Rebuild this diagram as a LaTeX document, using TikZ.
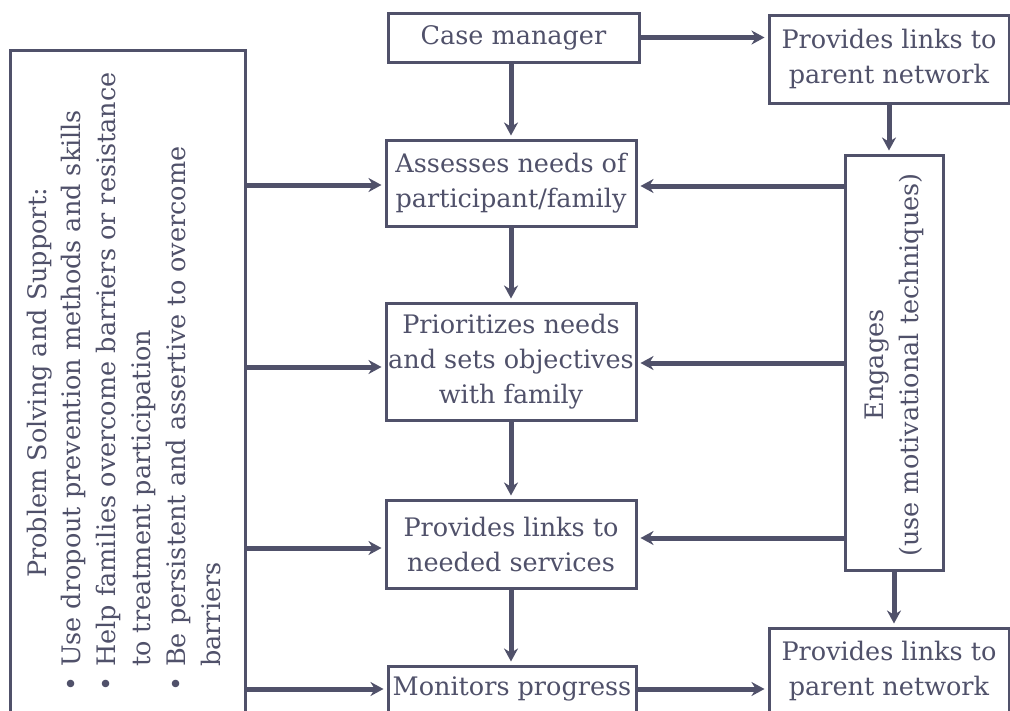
\documentclass[tikz,border=0pt]{standalone}
\usepackage{fontspec}
\setmainfont{DejaVu Serif}
\usetikzlibrary{arrows.meta}
\definecolor{ink}{RGB}{80,81,106}
\begin{document}
\begin{tikzpicture}[x=1pt,y=-1pt,
  box/.style={draw=ink,line width=3pt,fill=white,inner sep=0pt,align=center,text=ink,font=\fontsize{25.5}{35}\selectfont},
  txt/.style={text=ink,inner sep=0pt,font=\fontsize{25.5}{35}\selectfont},
  arr/.style={draw=ink,line width=5pt,-{Stealth[length=13pt,width=14pt]},shorten >=3pt}
]
\useasboundingbox[fill=white] (0,0) rectangle (1010,710);
% boxes
\node[box,minimum width=235pt,minimum height=690pt] (left) at (127.5,395) {};
\node[box,minimum width=251pt,minimum height=49pt] (cm) at (513.5,37.5) {Case manager};
\node[box,minimum width=240pt,minimum height=88pt] (ptop) at (889,59) {Provides links to\\parent network};
\node[box,minimum width=250pt,minimum height=86pt] (ass) at (511,183) {Assesses needs of\\participant/family};
\node[box,minimum width=250pt,minimum height=117pt] (pri) at (511,361.5) {Prioritizes needs\\and sets objectives\\with family};
\node[box,minimum width=250pt,minimum height=88pt] (pro) at (511,544) {Provides links to\\needed services};
\node[box,minimum width=248pt,minimum height=64pt] (mon) at (512,698) {};
\node[txt] (montxt) at (512,689) {Monitors progress};
\node[box,minimum width=98pt,minimum height=415pt] (eng) at (894,362.5) {};
\node[txt,rotate=90,align=center] (engtxt) at (894,365) {Engages\\(use motivational techniques)};
\node[box,minimum width=240pt,minimum height=112pt] (pbot) at (889,684) {};
\node[txt,align=center] (pbottxt) at (889,671) {Provides links to\\parent network};
% left box text
\node[txt,rotate=90] (title) at (40,383) {Problem Solving and Support:};
\node[txt,rotate=90,align=left,anchor=north west] (bul) at (61,692)
  {\makebox[25pt][l]{\textbullet}Use dropout prevention methods and skills\\
   \makebox[25pt][l]{\textbullet}Help families overcome barriers or resistance\\
   \hspace*{25pt}to treatment participation\\
   \makebox[25pt][l]{\textbullet}Be persistent and assertive to overcome\\
   \hspace*{25pt}barriers};
% arrows
\draw[arr] (cm.east) -- (ptop.west |- cm.east);
\draw[arr] (cm.south -| ass.north) -- (ass.north);
\draw[arr] (ass.south) -- (pri.north);
\draw[arr] (pri.south) -- (pro.north);
\draw[arr] (pro.south) -- (pro.south |- mon.north);
\draw[arr] (ptop.south) -- (ptop.south |- eng.north);
\draw[arr] (eng.south) -- (eng.south |- pbot.north);
\draw[arr] (eng.west |- 0,186) -- (ass.east |- 0,186);
\draw[arr] (eng.west |- 0,363) -- (pri.east |- 0,363);
\draw[arr] (eng.west |- 0,538) -- (pro.east |- 0,538);
\draw[arr] (left.east |- 0,185) -- (ass.west |- 0,185);
\draw[arr] (left.east |- 0,367) -- (pri.west |- 0,367);
\draw[arr] (left.east |- 0,548) -- (pro.west |- 0,548);
\draw[arr] (left.east |- montxt) -- (mon.west |- montxt);
\draw[arr] (mon.east |- montxt) -- (pbot.west |- montxt);
\end{tikzpicture}
\end{document}
